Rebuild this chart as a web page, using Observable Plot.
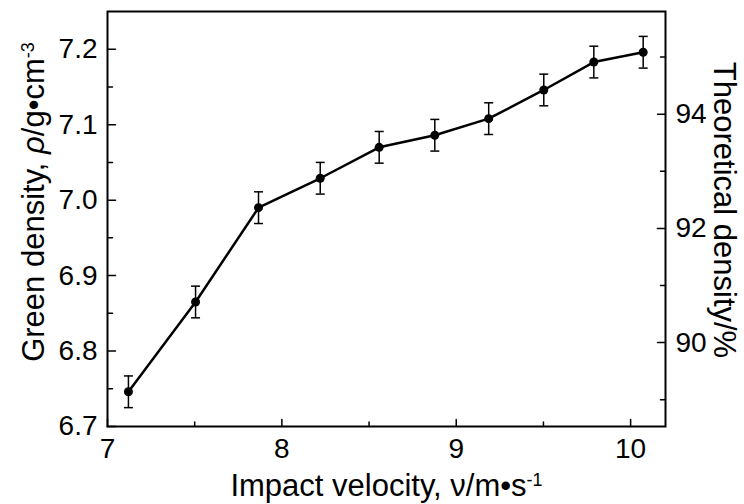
<!DOCTYPE html>
<html><head><meta charset="utf-8">
<script src="https://cdn.jsdelivr.net/npm/d3@7"></script>
<script src="https://cdn.jsdelivr.net/npm/@observablehq/plot@0.6"></script>
<style>body{margin:0;background:#fff} svg{display:block}</style>
</head><body><div id="chart"></div>
<script>
// ---- data ----
const velocity   = [7.12, 7.505, 7.866, 8.22, 8.558, 8.877, 9.186, 9.502, 9.789, 10.072];
const density    = [6.746, 6.865, 6.990, 7.029, 7.070, 7.086, 7.108, 7.146, 7.183, 7.196];
const densityErr = [0.021, 0.021, 0.021, 0.021, 0.021, 0.021, 0.021, 0.021, 0.021, 0.021];
const xMajorTicks = [7, 8, 9, 10];
const xMinorTicks = [7.5, 8.5, 9.5];
const yMajorTicks = [6.7, 6.8, 6.9, 7.0, 7.1, 7.2];
const yMinorTicks = [6.75, 6.85, 6.95, 7.05, 7.15];
const pctMajorTicks = [90, 92, 94];
const pctMinorTicks = [89, 91, 93, 95];
const theoreticalDensity = 7.568; // g/cm^3, maps the right axis (%) onto the left axis
const xTitle = "Impact velocity, ν/m•s-1";
const yTitle = "Green density, ρ/g•cm-3";
const y2Title = "Theoretical density/%";

const data = velocity.map((v, i) => ({v, rho: density[i], lo: density[i] - densityErr[i], hi: density[i] + densityErr[i]}));
const toRho = p => p / 100 * theoreticalDensity;

const tickShape = {draw(ctx, l) { ctx.moveTo(0, 0); ctx.lineTo(0, -l); }};
const capSymbol = {draw(ctx, size) { const w = Math.sqrt(size / Math.PI); ctx.moveTo(-w, 0); ctx.lineTo(w, 0); }};
const FONT = "'Liberation Sans', Arial, Helvetica, sans-serif";

const inwardTicks = (vals, side, len) => Plot.vector(vals, {
  ...(side === "bottom" ? {x: d => d} : {y: d => d}),
  frameAnchor: side,
  rotate: side === "bottom" ? 0 : side === "left" ? 90 : -90,
  length: len, anchor: "start", shape: tickShape,
  stroke: "black", strokeWidth: 1.5
});

const svg = Plot.plot({
  width: 744, height: 504,
  marginLeft: 107, marginRight: 79, marginTop: 11, marginBottom: 78,
  style: {fontFamily: FONT, color: "black", background: "white", overflow: "visible"},
  x: {domain: [7, 10.2]},
  y: {domain: [6.7, 7.25]},
  marks: [
    Plot.frame({stroke: "black", strokeWidth: 2}),
    inwardTicks(xMajorTicks, "bottom", 7),
    inwardTicks(xMinorTicks, "bottom", 4.5),
    inwardTicks(yMajorTicks, "left", 8),
    inwardTicks(yMinorTicks, "left", 5),
    inwardTicks(pctMajorTicks.map(toRho), "right", 8),
    inwardTicks(pctMinorTicks.map(toRho), "right", 5),
    Plot.axisX(xMajorTicks, {tickSize: 0, tickPadding: 12, fontSize: 28, tickFormat: d => String(d), label: null}),
    Plot.axisY(yMajorTicks, {anchor: "left", tickSize: 0, tickPadding: 10, fontSize: 28, tickFormat: d => d.toFixed(1), label: null}),
    Plot.axisY(pctMajorTicks.map(toRho), {anchor: "right", tickSize: 0, tickPadding: 10, fontSize: 28,
      tickFormat: d => String(Math.round(d / theoreticalDensity * 100)), label: null}),
    Plot.ruleX(data, {x: "v", y1: "lo", y2: "hi", stroke: "black", strokeWidth: 1.5}),
    Plot.dot(data, {x: "v", y: "lo", symbol: capSymbol, r: 4.5, fill: "none", stroke: "black", strokeWidth: 1.5}),
    Plot.dot(data, {x: "v", y: "hi", symbol: capSymbol, r: 4.5, fill: "none", stroke: "black", strokeWidth: 1.5}),
    Plot.line(data, {x: "v", y: "rho", stroke: "black", strokeWidth: 2.5}),
    Plot.dot(data, {x: "v", y: "rho", r: 4.5, fill: "black", stroke: "none"}),
    Plot.text([xTitle], {text: d => d, frameAnchor: "bottom", textAnchor: "middle", lineAnchor: "middle", dy: 60, fontSize: 31, fill: "black"}),
    Plot.text([yTitle], {text: d => d, frameAnchor: "left", textAnchor: "middle", lineAnchor: "middle", rotate: -90, dx: -73, dy: -17, fontSize: 31, fill: "black"}),
    Plot.text([y2Title], {text: d => d, frameAnchor: "right", textAnchor: "middle", lineAnchor: "middle", rotate: 90, dx: 58, dy: -9, fontSize: 31, fill: "black"})
  ]
});
document.getElementById("chart").appendChild(svg);

// rich text (italic symbol, superscript exponent) for the axis titles
function richTitle(str, parts) {
  d3.select(svg).selectAll("text").filter(function() { return this.textContent === str; }).each(function() {
    const t = d3.select(this);
    t.text(null);
    for (const p of parts) {
      const ts = t.append("tspan").text(p.s);
      if (p.italic) ts.attr("font-style", "italic");
      if (p.sup) ts.attr("dy", "-0.6em").attr("font-size", "18px");
    }
  });
}
richTitle(yTitle, [{s: "Green density, "}, {s: "ρ", italic: true}, {s: "/g•cm"}, {s: "-3", sup: true}]);
richTitle(xTitle, [{s: "Impact velocity, ν/m•s"}, {s: "-1", sup: true}]);
</script>
</body></html>
